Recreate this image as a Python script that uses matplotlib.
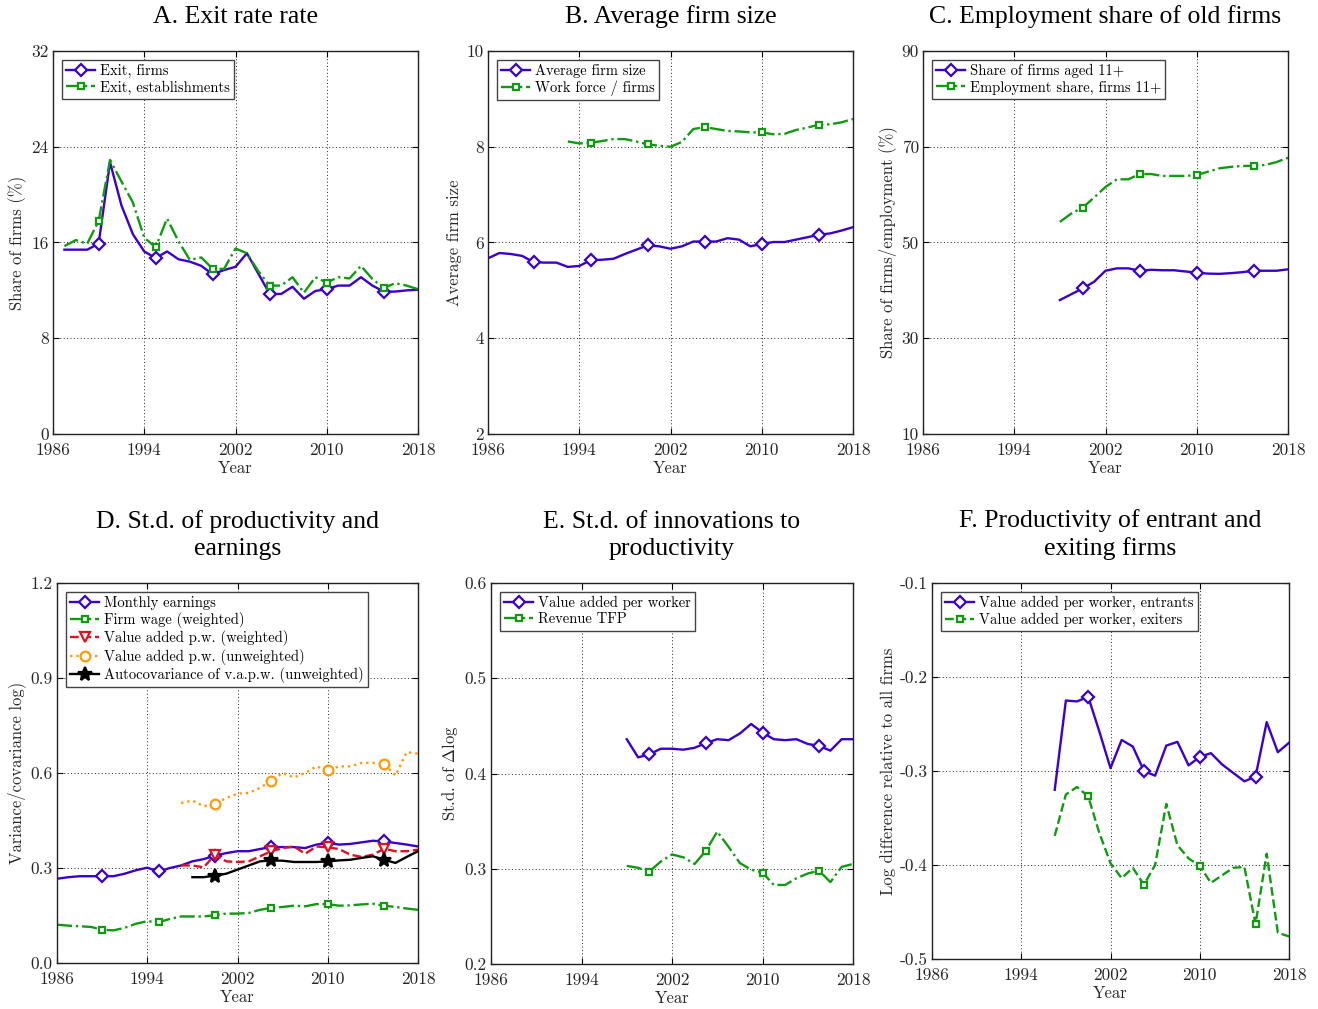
import matplotlib
matplotlib.use("Agg")
import matplotlib.pyplot as plt
import numpy as np

plt.rcParams["font.family"] = ["cmr10", "DejaVu Serif"]
plt.rcParams["mathtext.fontset"] = "cm"
plt.rcParams["axes.unicode_minus"] = False
plt.rcParams["axes.formatter.use_mathtext"] = True

BLUE = "#3a00cc"
GREEN = "#119911"
RED = "#e0101e"
ORANGE = "#ff9a0a"
BLACK = "#000000"
TXT = "#262626"

# ---------- A. exit rates (1987-2018)
years_a = list(range(1987, 2019))
exit_firms = [15.4, 15.4, 15.4, 15.9, 22.7, 19.1, 16.7, 15.25, 14.7, 15.25, 14.6, 14.4,
              14.05, 13.35, 13.7, 13.97, 15.1, 13.4, 11.7, 11.7, 12.3, 11.3, 11.95, 12.1,
              12.4, 12.4, 13.1, 12.4, 11.9, 11.9, 12.0, 12.05]
exit_estab = [15.7, 16.2, 15.9, 17.8, 22.9, 21.1, 19.35, 16.4, 15.6, 18.0, 16.1, 14.55,
              14.75, 13.8, 13.8, 15.5, 15.1, 13.6, 12.4, 12.4, 13.1, 11.8, 13.1, 12.65,
              13.1, 13.0, 14.05, 12.95, 12.2, 12.6, 12.4, 12.1]

# ---------- B. average firm size
years_b1 = list(range(1986, 2019))
avg_size = [5.67, 5.78, 5.76, 5.72, 5.59, 5.58, 5.58, 5.49, 5.51, 5.63, 5.64, 5.66,
            5.76, 5.85, 5.94, 5.92, 5.87, 5.92, 6.02, 6.02, 6.02, 6.09, 6.06, 5.92,
            5.97, 6.01, 6.01, 6.06, 6.11, 6.16, 6.19, 6.25, 6.32]
years_b2 = list(range(1993, 2019))
wf_per_firm = [8.11, 8.07, 8.08, 8.12, 8.16, 8.16, 8.11, 8.05, 8.02, 8.00, 8.10, 8.37,
               8.41, 8.37, 8.33, 8.32, 8.30, 8.30, 8.26, 8.27, 8.35, 8.40, 8.46, 8.47,
               8.51, 8.58]

# ---------- C. old firms (1998-2018)
years_c = list(range(1998, 2019))
share_old = [37.97, 39.2, 40.4, 41.8, 44.1, 44.6, 44.6, 44.1, 44.3, 44.2, 44.2, 43.95,
             43.7, 43.5, 43.45, 43.6, 43.8, 44.1, 44.1, 44.1, 44.4]
emp_share_old = [54.3, 56.05, 57.3, 59.4, 61.6, 63.2, 63.2, 64.3, 64.3, 63.9, 63.9, 63.9,
                 64.1, 64.8, 65.5, 65.8, 66.0, 66.0, 66.2, 66.8, 67.7]

# ---------- D. dispersion of productivity and earnings
years_d1 = list(range(1986, 2019))
earnings = [0.266, 0.271, 0.274, 0.274, 0.274, 0.274, 0.282, 0.293, 0.301, 0.289, 0.300,
            0.308, 0.321, 0.328, 0.339, 0.347, 0.353, 0.353, 0.360, 0.366, 0.366, 0.366,
            0.363, 0.374, 0.379, 0.374, 0.376, 0.381, 0.386, 0.384, 0.379, 0.374, 0.368]
firm_wage = [0.121, 0.118, 0.116, 0.114, 0.105, 0.103, 0.111, 0.124, 0.132, 0.129, 0.139,
             0.147, 0.147, 0.147, 0.151, 0.156, 0.156, 0.158, 0.168, 0.174, 0.177, 0.181,
             0.179, 0.186, 0.186, 0.181, 0.182, 0.185, 0.187, 0.181, 0.177, 0.172, 0.168]
years_d2 = list(range(1997, 2019))
vapw_w = [0.308, 0.308, 0.302, 0.342, 0.321, 0.319, 0.321, 0.337, 0.353, 0.363, 0.368,
          0.345, 0.368, 0.365, 0.360, 0.342, 0.335, 0.342, 0.361, 0.353, 0.353, 0.358]
vapw_u = [0.505, 0.513, 0.495, 0.503, 0.521, 0.535, 0.537, 0.553, 0.576, 0.600, 0.586,
          0.600, 0.621, 0.608, 0.621, 0.621, 0.632, 0.632, 0.629, 0.592, 0.666, 0.661]
years_d3 = list(range(1998, 2019))
autocov = [0.271, 0.271, 0.276, 0.282, 0.295, 0.308, 0.321, 0.324, 0.323, 0.319, 0.319,
           0.319, 0.321, 0.324, 0.326, 0.332, 0.337, 0.326, 0.316, 0.335, 0.353]

# ---------- E. innovations (1998-2018)
years_e = list(range(1998, 2019))
innov_vapw = [0.436, 0.417, 0.420, 0.426, 0.426, 0.425, 0.427, 0.432, 0.436, 0.435, 0.442,
              0.452, 0.443, 0.436, 0.435, 0.436, 0.431, 0.429, 0.424, 0.436, 0.436]
innov_tfp = [0.303, 0.301, 0.297, 0.3075, 0.315, 0.312, 0.305, 0.319, 0.339, 0.323, 0.306,
             0.299, 0.296, 0.283, 0.283, 0.290, 0.295, 0.298, 0.286, 0.302, 0.305]

# ---------- F. entrants and exiters (1997-2018)
years_f = list(range(1997, 2019))
entrants = [-0.320, -0.225, -0.226, -0.221, -0.258, -0.297, -0.267, -0.274, -0.300, -0.305,
            -0.273, -0.269, -0.294, -0.285, -0.281, -0.293, -0.302, -0.311, -0.306, -0.248,
            -0.280, -0.270]
exiters = [-0.369, -0.325, -0.317, -0.327, -0.366, -0.398, -0.414, -0.403, -0.421, -0.400,
           -0.335, -0.379, -0.393, -0.401, -0.419, -0.411, -0.403, -0.402, -0.463, -0.388,
           -0.472, -0.476]

x_ticks = [1986, 1994, 2002, 2010, 2018]


def every5(years):
    return [i for i, y in enumerate(years) if y % 5 == 0]


def series(ax, years, vals, color, ls, marker, label, ms=6.5, filled=False):
    ax.plot(years, vals, color=color, ls=ls, lw=1.7, marker=marker, ms=ms,
            mfc=color if filled else "white", mec=color, mew=1.6,
            markevery=every5(years), label=label)


def style(ax, title, ylabel, yticks, ylabels):
    ax.set_xlim(1986, 2018)
    ax.set_ylim(yticks[0], yticks[-1])
    ax.set_xticks(x_ticks)
    ax.set_xticklabels([str(t) for t in x_ticks])
    ax.set_yticks(yticks)
    ax.set_yticklabels(ylabels)
    ax.grid(True, color="#222222", ls=(0, (1, 2.5)), lw=0.7)
    ax.tick_params(direction="in", top=True, right=True, length=4, width=0.8,
                   labelsize=12.5, labelcolor=TXT)
    ax.tick_params(axis="x", pad=6)
    ax.tick_params(axis="y", pad=3)
    for s in ax.spines.values():
        s.set_linewidth(1.0)
        s.set_color("#222222")
    ax.set_title(title, fontsize=18.5, family=["Liberation Serif", "DejaVu Serif"],
                 pad=20, linespacing=1.3)
    ax.set_xlabel("Year", fontsize=12, color=TXT, labelpad=2)
    ax.set_ylabel(ylabel, fontsize=12, color=TXT, labelpad=3)
    leg = ax.legend(loc="upper left", fontsize=10.5, fancybox=False, framealpha=1,
                    edgecolor="#444444", handlelength=2.0, borderpad=0.3,
                    labelspacing=0.15, handletextpad=0.3, borderaxespad=0.6)
    leg.get_frame().set_linewidth(1.0)


fig = plt.figure(figsize=(13.18, 10.09), dpi=100)
W, H = 1318.0, 1009.0


def add_ax(l, r, t, b):
    return fig.add_axes([l / W, 1 - b / H, (r - l) / W, (b - t) / H])


axA = add_ax(53, 418, 51, 434)
axB = add_ax(488, 853, 51, 434)
axC = add_ax(923, 1288, 51, 434)
axD = add_ax(57, 418, 583, 963)
axE = add_ax(491, 853, 583, 964)
axF = add_ax(932, 1289, 583, 959)

# A
series(axA, years_a, exit_firms, BLUE, "-", "D", "Exit, firms", ms=6.5)
series(axA, years_a, exit_estab, GREEN, "-.", "s", "Exit, establishments", ms=5)
style(axA, "A. Exit rate rate", "Share of firms (%)",
      [0, 8, 16, 24, 32], ["0", "8", "16", "24", "32"])

# B
series(axB, years_b1, avg_size, BLUE, "-", "D", "Average firm size", ms=6.5)
series(axB, years_b2, wf_per_firm, GREEN, "-.", "s", "Work force / firms", ms=5)
style(axB, "B. Average firm size", "Average firm size",
      [2, 4, 6, 8, 10], ["2", "4", "6", "8", "10"])

# C
series(axC, years_c, share_old, BLUE, "-", "D", "Share of firms aged 11+", ms=6.5)
series(axC, years_c, emp_share_old, GREEN, "-.", "s", "Employment share, firms 11+", ms=5)
style(axC, "C. Employment share of old firms", "Share of firms/employment (%)",
      [10, 30, 50, 70, 90], ["10", "30", "50", "70", "90"])

# D
series(axD, years_d1, earnings, BLUE, "-", "D", "Monthly earnings", ms=6.5)
series(axD, years_d1, firm_wage, GREEN, "-.", "s", "Firm wage (weighted)", ms=5)
series(axD, years_d2, vapw_w, RED, "--", "v", "Value added p.w. (weighted)", ms=7.5)
series(axD, years_d2, vapw_u, ORANGE, ":", "o", "Value added p.w. (unweighted)", ms=7)
series(axD, years_d3, autocov, BLACK, "-", "*", "Autocovariance of v.a.p.w. (unweighted)",
       ms=10, filled=True)
style(axD, "D. St.d. of productivity and\nearnings", "Variance/covariance log)",
      [0.0, 0.3, 0.6, 0.9, 1.2], ["0.0", "0.3", "0.6", "0.9", "1.2"])

# E
series(axE, years_e, innov_vapw, BLUE, "-", "D", "Value added per worker", ms=6.5)
series(axE, years_e, innov_tfp, GREEN, "-.", "s", "Revenue TFP", ms=5)
style(axE, "E. St.d. of innovations to\nproductivity", r"St.d. of $\Delta$log",
      [0.2, 0.3, 0.4, 0.5, 0.6], ["0.2", "0.3", "0.4", "0.5", "0.6"])

# F
series(axF, years_f, entrants, BLUE, "-", "D", "Value added per worker, entrants", ms=6.5)
series(axF, years_f, exiters, GREEN, "--", "s", "Value added per worker, exiters", ms=5)
style(axF, "F. Productivity of entrant and\nexiting firms", "Log difference relative to all firms",
      [-0.5, -0.4, -0.3, -0.2, -0.1], ["-0.5", "-0.4", "-0.3", "-0.2", "-0.1"])

fig.savefig("out.png", dpi=100)
